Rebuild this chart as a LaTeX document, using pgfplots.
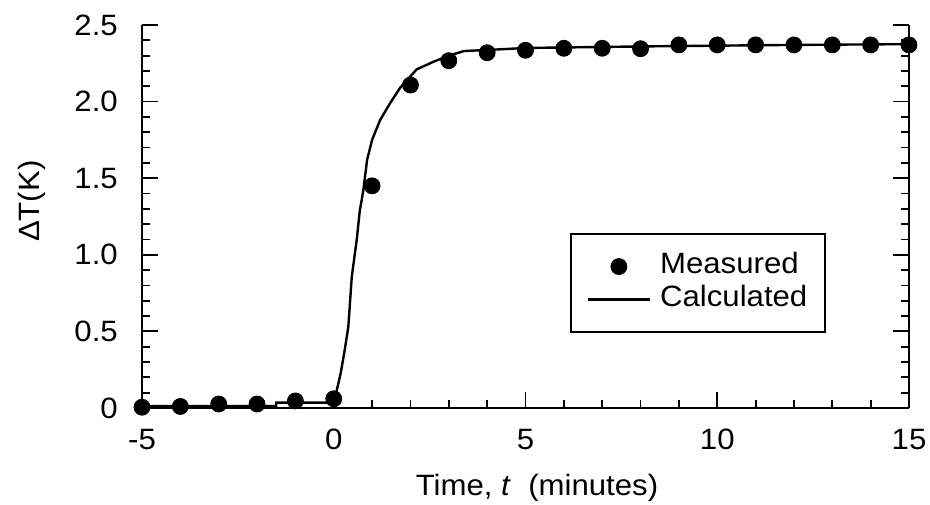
\documentclass[border=0pt]{standalone}
\usepackage{fontspec}
\setmainfont{Liberation Sans}[FakeStretch=1.06]
\usepackage{pgfplots}
\pgfplotsset{compat=1.18}
\usetikzlibrary{calc}
\pgfplotsset{
  legmark/.style={legend image code/.code={\draw[mark repeat=2,mark phase=2,##1] plot coordinates {(0pt,0pt)(15.5pt,0pt)(31pt,0pt)};}},
  legline/.style={legend image code/.code={\draw[##1] (0pt,0pt) -- (31pt,0pt);}},
}
\begin{document}
\fontsize{14.7}{17}\selectfont
\begin{tikzpicture}
\begin{axis}[
  scale only axis, width=383.5pt, height=191.5pt,
  xmin=-5, xmax=15, ymin=0, ymax=2.5,
  axis x line*=bottom, axis y line*=box,
  clip=false,
  xtick={-5,0,5,10,15}, xticklabels={-5,0,5,10,15},
  minor x tick num=4,
  ytick={0,0.5,1,1.5,2,2.5}, yticklabels={0,0.5,1.0,1.5,2.0,2.5},
  minor y tick num=4,
  /pgf/number format/assume math mode=true,
  tick align=inside, major tick length=8pt, minor tick length=4pt,
  every tick/.style={line width=0.9pt, black},
  axis line style={line width=1.3pt},
  xticklabel style={yshift=-5.5pt},
  yticklabel style={xshift=-7pt},
  xlabel={Time, \textit{t}\ \ (minutes)},
  every axis x label/.style={at={(axis description cs:0.515,0)}, anchor=base, yshift=-44pt},
  ylabel={ΔT(K)},
  every axis y label/.style={at={(axis description cs:-0.133,0.54)}, rotate=90, anchor=base},
  legend style={at={(axis description cs:0.5575,0.457)}, anchor=north west,
    draw=black, line width=1.1pt, inner xsep=8pt, inner ysep=8pt,
    column sep=3.5pt, row sep=0pt,
    nodes={inner sep=1pt, text height=10.5pt, text depth=4pt}},
  legend cell align=left,
]
\addplot[only marks, mark=*, mark size=4pt, mark options={fill=black, draw=black, line width=0.4pt}, legmark]
coordinates {
(-5,0.005) (-4,0.01) (-3,0.026) (-2,0.026) (-1,0.046) (0,0.06)
(1,1.45) (2,2.108) (3,2.267) (4,2.319) (5,2.335) (6,2.348) (7,2.348)
(8,2.345) (9,2.37) (10,2.37) (11,2.37) (12,2.37) (13,2.37) (14,2.37) (15,2.37)
};
\addlegendentry{Measured}
\addplot[black, line width=1.2pt, mark=none, legline]
coordinates {
(-5,0.012) (-1.5,0.012) (-1.5,0.035) (-0.03,0.035) (0.07,0.106) (0.18,0.226)
(0.28,0.37) (0.38,0.53) (0.47,0.857) (0.60,1.10) (0.68,1.29) (0.73,1.36)
(0.77,1.42) (0.87,1.62) (1.0,1.75) (1.21,1.88) (1.47,1.99) (1.73,2.09)
(2.16,2.21) (2.6,2.26) (3.0,2.30) (3.4,2.33) (4.25,2.34) (5,2.35)
(8,2.36) (12,2.37) (15,2.375)
};
\addlegendentry{Calculated}
\end{axis}
\pgfresetboundingbox
\path ($(current axis.south west)+(-71pt,-48.5pt)$) rectangle ($(current axis.north east)+(10.5pt,12.5pt)$);
\end{tikzpicture}
\end{document}
